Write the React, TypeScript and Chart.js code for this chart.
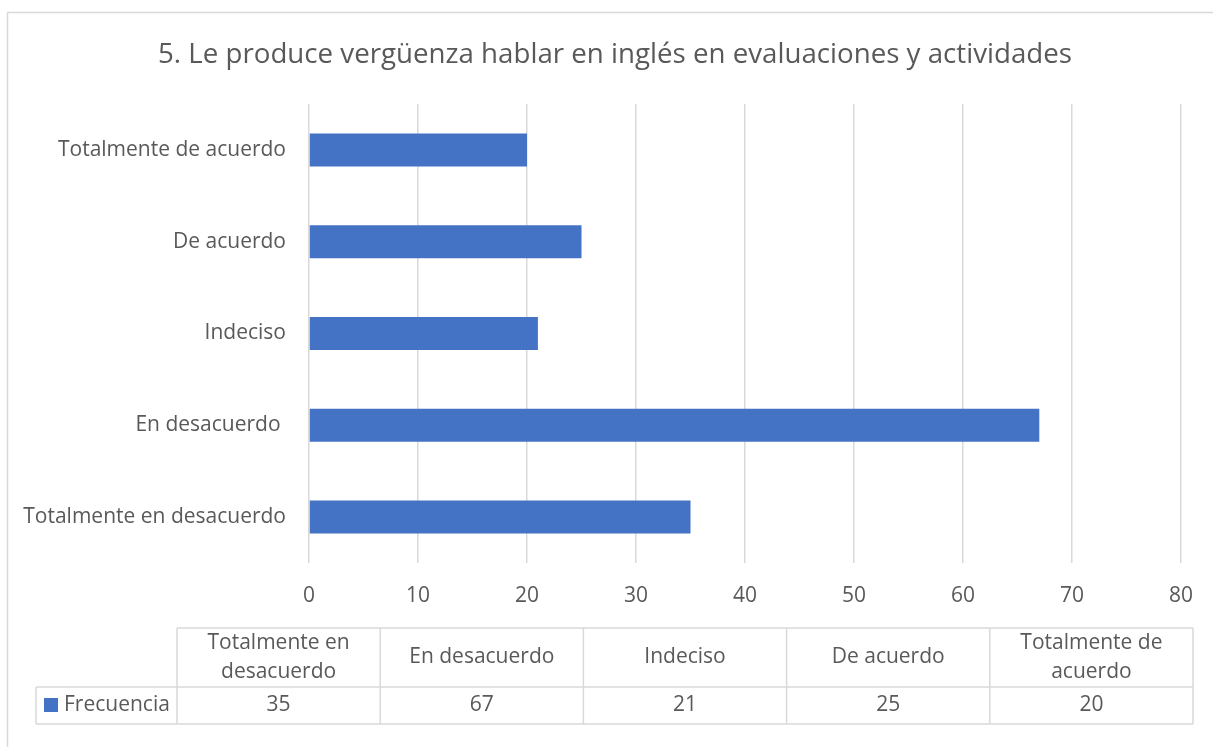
import React, { useEffect, useRef } from "react";
import { Chart, registerables } from "chart.js";

Chart.register(...registerables);

const title = "5. Le produce vergüenza hablar en inglés en evaluaciones y actividades";
const categories = [
  "Totalmente en desacuerdo",
  "En desacuerdo ",
  "Indeciso",
  "De acuerdo",
  "Totalmente de acuerdo",
];
const seriesName = "Frecuencia";
const frecuencia = [35, 67, 21, 25, 20];
const xMin = 0;
const xMax = 80;
const xStep = 10;

const FONT = "'Open Sans', sans-serif";
const TEXT = "#595959";
const GRID = "#d9d9d9";
const BAR = "#4472C4";
const LABEL_SIZE = 21;
const TITLE_SIZE = 27.7;

function wrap(ctx: CanvasRenderingContext2D, text: string, maxW: number): string[] {
  const words = text.trim().split(" ");
  const lines: string[] = [];
  let cur = "";
  for (const w of words) {
    const t = cur ? cur + " " + w : w;
    if (ctx.measureText(t).width > maxW && cur) {
      lines.push(cur);
      cur = w;
    } else cur = t;
  }
  if (cur) lines.push(cur);
  return lines;
}

const framePlugin = {
  id: "frame",
  beforeDraw(chart: any) {
    const ctx: CanvasRenderingContext2D = chart.ctx;
    ctx.save();
    ctx.fillStyle = "#ffffff";
    ctx.fillRect(0, 0, chart.width, chart.height);
    ctx.strokeStyle = GRID;
    ctx.lineWidth = 1.5;
    ctx.strokeRect(7.5, 12.5, chart.width + 40, chart.height + 40);
    ctx.fillStyle = TEXT;
    ctx.font = `${TITLE_SIZE}px ${FONT}`;
    ctx.textAlign = "center";
    ctx.textBaseline = "middle";
    ctx.fillText(title, 615, 55);
    ctx.restore();
  },
  afterDraw(chart: any) {
    const ctx: CanvasRenderingContext2D = chart.ctx;
    const labels: string[] = chart.data.labels;
    const values: number[] = chart.data.datasets[0].data;
    const legLeft = 36;
    const left = 177;
    const right = 1193;
    const top = 628;
    const mid = 687;
    const bottom = 724;
    const n = labels.length;
    const cw = (right - left) / n;
    ctx.save();
    ctx.strokeStyle = GRID;
    ctx.lineWidth = 1.5;
    ctx.beginPath();
    ctx.moveTo(left, top);
    ctx.lineTo(right, top);
    ctx.moveTo(legLeft, mid);
    ctx.lineTo(right, mid);
    ctx.moveTo(legLeft, bottom);
    ctx.lineTo(right, bottom);
    ctx.moveTo(legLeft, mid);
    ctx.lineTo(legLeft, bottom);
    for (let i = 0; i <= n; i++) {
      const x = left + i * cw;
      ctx.moveTo(x, top);
      ctx.lineTo(x, bottom);
    }
    ctx.stroke();

    ctx.fillStyle = TEXT;
    ctx.font = `${LABEL_SIZE}px ${FONT}`;
    ctx.textAlign = "center";
    ctx.textBaseline = "middle";
    for (let i = 0; i < n; i++) {
      const cx = left + (i + 0.5) * cw;
      const lines = wrap(ctx, labels[i], cw - 30);
      const lh = 29;
      const cy = (top + mid) / 2;
      lines.forEach((ln, j) => {
        ctx.fillText(ln, cx, cy + (j - (lines.length - 1) / 2) * lh);
      });
      ctx.fillText(String(values[i]), cx, (mid + bottom) / 2);
    }
    ctx.fillStyle = chart.data.datasets[0].backgroundColor;
    ctx.fillRect(44, 698, 14, 14);
    ctx.fillStyle = TEXT;
    ctx.textAlign = "left";
    ctx.fillText(chart.data.datasets[0].label, 64, (mid + bottom) / 2);
    ctx.restore();
  },
};

export default function App() {
  const ref = useRef<HTMLCanvasElement | null>(null);
  useEffect(() => {
    if (!ref.current) return;
    const chart = new Chart(ref.current, {
      type: "bar",
      data: {
        labels: categories,
        datasets: [
          {
            label: seriesName,
            data: frecuencia,
            backgroundColor: BAR,
            borderWidth: 0,
            barPercentage: 0.36,
            categoryPercentage: 1,
          },
        ],
      },
      options: {
        indexAxis: "y",
        animation: false,
        responsive: false,
        layout: { padding: { top: 104, bottom: 144, left: 0, right: 32 } },
        plugins: {
          legend: { display: false },
          title: { display: false },
          tooltip: { enabled: false },
        },
        scales: {
          x: {
            min: xMin,
            max: xMax,
            ticks: {
              stepSize: xStep,
              color: TEXT,
              font: { family: FONT, size: LABEL_SIZE },
              padding: 20,
            },
            grid: { color: GRID, lineWidth: 1.5, drawTicks: false },
            border: { display: false },
            afterFit: (s: any) => {
              s.height = 40;
            },
          },
          y: {
            reverse: true,
            ticks: {
              color: TEXT,
              font: { family: FONT, size: LABEL_SIZE },
              padding: 23,
              autoSkip: false,
            },
            grid: { display: false, drawTicks: false },
            border: { display: false },
            afterFit: (s: any) => {
              s.width = 309;
            },
          },
        },
      },
      plugins: [framePlugin],
    });
    return () => chart.destroy();
  }, []);
  return (
    <div style={{ position: "absolute", left: 0, top: 0, width: 1213, height: 747 }}>
      <canvas ref={ref} width={1213} height={747} style={{ display: "block" }} />
    </div>
  );
}
